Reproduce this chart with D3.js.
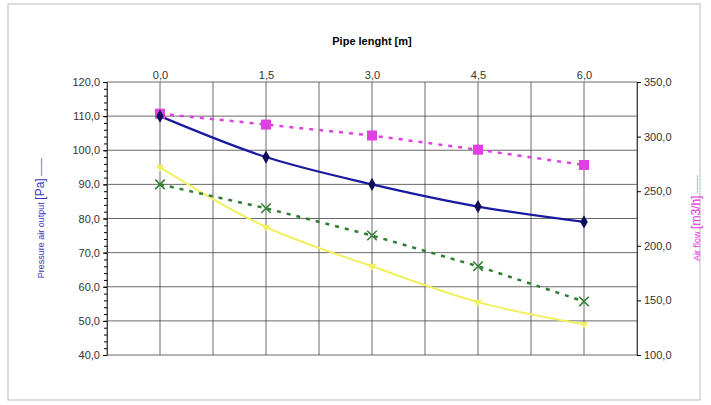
<!DOCTYPE html><html><head><meta charset="utf-8"><script src="https://cdn.jsdelivr.net/npm/d3@7"></script>
<style>body{margin:0;background:#fff}text{font-family:"Liberation Sans",Arial,sans-serif}</style></head><body><svg id="c" width="711" height="405"></svg><script>
const xs=[0,1.5,3,4.5,6];
const xTicks=["0,0","1,5","3,0","4,5","6,0"];
const pressureBlue=[110,98,90,83.5,79];
const pressureYellow=[95,77.5,66,55.5,49];
const pressureGreen=[90,83,75,66,55.7];
const airFlow=[321,311,301,288,274];
const fmt=v=>d3.format(".1f")(v).replace(".",",");
const svg=d3.select("#c");
svg.append("rect").attr("x",8).attr("y",4).attr("width",692).attr("height",396).attr("fill","none").attr("stroke","#bbb");
const L=107,R=637,T=82,B=355;
const x=d3.scaleLinear().domain([-0.75,6.75]).range([L,R]);
const yL=d3.scaleLinear().domain([40,120]).range([B,T]);
const yR=d3.scaleLinear().domain([100,350]).range([B,T]);
const g=svg.append("g");
d3.range(-0.75,6.76,0.75).forEach(v=>g.append("line").attr("x1",x(v)).attr("x2",x(v)).attr("y1",T).attr("y2",B).attr("stroke","#444").attr("stroke-width",0.8));
d3.range(40,121,10).forEach(v=>g.append("line").attr("x1",L).attr("x2",R).attr("y1",yL(v)).attr("y2",yL(v)).attr("stroke","#444").attr("stroke-width",0.8));
const ax=svg.append("g").attr("transform",`translate(${L},0)`).call(d3.axisLeft(yL).tickValues(d3.range(40,121,10)).tickFormat(fmt).tickSize(4));
svg.append("g").attr("transform",`translate(${L},0)`).call(d3.axisLeft(yL).tickValues(d3.range(40,121,2)).tickFormat("").tickSize(3)).select(".domain").remove();
svg.append("g").attr("transform",`translate(${R},0)`).call(d3.axisRight(yR).tickValues(d3.range(100,351,50)).tickFormat(fmt).tickSize(4));
svg.append("g").attr("transform",`translate(0,${T})`).call(d3.axisTop(x).tickValues(xs).tickFormat((d,i)=>xTicks[i]).tickSize(0)).select(".domain").remove();
svg.selectAll(".tick text").attr("font-size",11).attr("fill","#333");
svg.selectAll(".domain").attr("stroke","#444");
svg.append("text").attr("x",372).attr("y",45).attr("text-anchor","middle").attr("font-size",11).attr("font-weight","bold").text("Pipe lenght [m]");
const lt=svg.append("text").attr("transform","translate(44,218) rotate(-90)").attr("text-anchor","middle").attr("font-size",9).attr("fill","#3333bb");
lt.append("tspan").text("Pressure air output ");lt.append("tspan").attr("font-size",12).text("[Pa]");lt.append("tspan").text("  ——");
const rt=svg.append("text").attr("transform","translate(700,218) rotate(-90)").attr("text-anchor","middle").attr("font-size",9).attr("fill","#dd33dd");
rt.append("tspan").text("Air flow ");rt.append("tspan").attr("font-size",12).text("[m3/h]");rt.append("tspan").text(" ------");
const line=(ys,sc,c)=>d3.line().x((d,i)=>x(xs[i])).y(d=>sc(d)).curve(c||d3.curveLinear)(ys);
svg.append("path").attr("d",line(pressureYellow,yL,d3.curveMonotoneX)).attr("fill","none").attr("stroke","#f0f060").attr("stroke-width",2);
svg.append("path").attr("d",line(pressureGreen,yL)).attr("fill","none").attr("stroke","#2e7d32").attr("stroke-width",2.5).attr("stroke-dasharray","4,6");
svg.append("path").attr("d",line(airFlow,yR)).attr("fill","none").attr("stroke","#e040e0").attr("stroke-width",2.5).attr("stroke-dasharray","4,6");
svg.append("path").attr("d",line(pressureBlue,yL,d3.curveMonotoneX)).attr("fill","none").attr("stroke","#1a1aa0").attr("stroke-width",2.2);
pressureYellow.forEach((v,i)=>svg.append("path").attr("d",d3.symbol(d3.symbolTriangle,30)()).attr("transform",`translate(${x(xs[i])},${yL(v)}) rotate(180)`).attr("fill","#f0f060"));
pressureGreen.forEach((v,i)=>svg.append("path").attr("d",d3.symbol(d3.symbolX,60)()).attr("transform",`translate(${x(xs[i])},${yL(v)})`).attr("fill","none").attr("stroke","#2e7d32").attr("stroke-width",1.5));
airFlow.forEach((v,i)=>svg.append("rect").attr("x",x(xs[i])-5).attr("y",yR(v)-5).attr("width",10).attr("height",10).attr("fill","#e040e0"));
pressureBlue.forEach((v,i)=>svg.append("path").attr("d",d3.symbol(d3.symbolDiamond,50)()).attr("transform",`translate(${x(xs[i])},${yL(v)})`).attr("fill","#10105a"));
</script></body></html>
